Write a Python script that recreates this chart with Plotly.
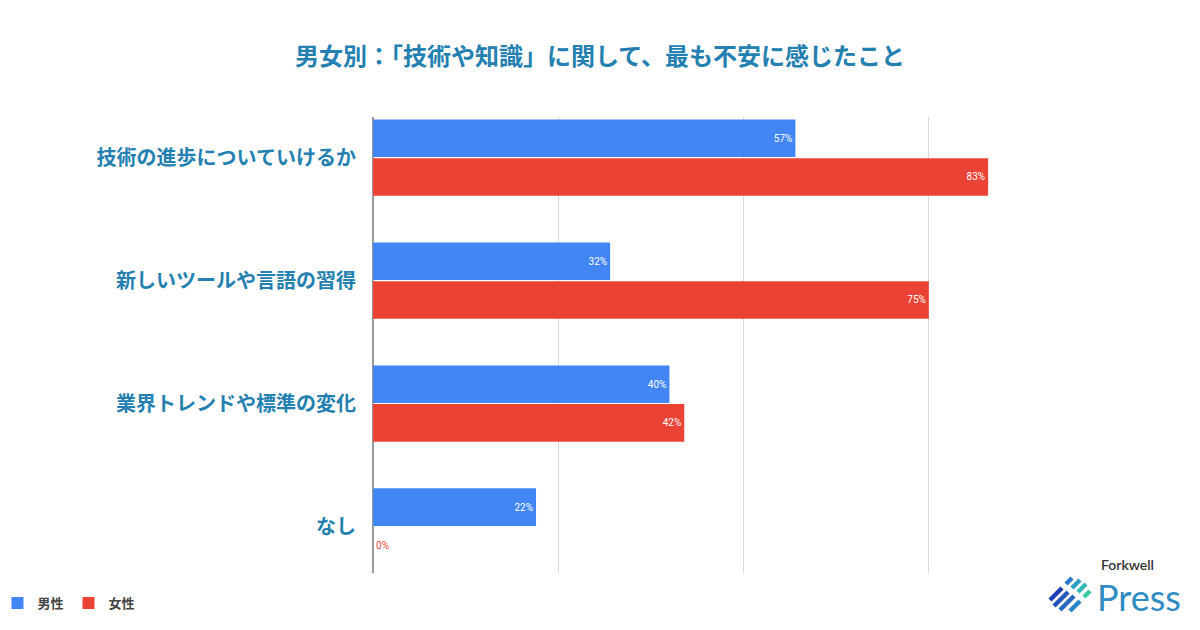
import plotly.graph_objects as go

# data
categories = ["技術の進歩についていけるか", "新しいツールや言語の習得", "業界トレンドや標準の変化", "なし"]
male = [57, 32, 40, 22]
female = [83, 75, 42, 0]
series_names = ["男性", "女性"]

BLUE = "#4285f4"
RED = "#ea4335"
TITLE_COLOR = "#2380b0"
FONT = "Noto Sans CJK JP"


def bar_trace(name, values, color):
    return go.Bar(
        name=name,
        y=categories,
        x=values,
        orientation="h",
        marker=dict(color=color, line=dict(width=0)),
        text=[f"{v}%" for v in values],
        textposition=["inside" if v > 0 else "outside" for v in values],
        insidetextanchor="end",
        textfont=dict(size=10, family="Roboto",
                      color=["white" if v > 0 else color for v in values]),
        cliponaxis=False,
        hoverinfo="skip",
    )


fig = go.Figure()
fig.add_trace(bar_trace(series_names[0], male, BLUE))
fig.add_trace(bar_trace(series_names[1], female, RED))

fig.update_layout(
    width=1200, height=630,
    margin=dict(l=373, r=160, t=117, b=57, autoexpand=False),
    paper_bgcolor="white", plot_bgcolor="white",
    barmode="group", bargap=0.37, bargroupgap=0.03,
    font=dict(family=FONT),
    title=dict(
        text="男女別：「技術や知識」に関して、最も不安に感じたこと",
        x=0.5, xref="container", xanchor="center",
        y=1 - 57 / 630, yref="container", yanchor="middle",
        font=dict(size=24, color=TITLE_COLOR, family=FONT, weight=700),
    ),
    showlegend=True,
    legend=dict(
        orientation="h", x=-0.563, xanchor="left", y=-0.066, yanchor="middle",
        font=dict(size=13, color="#444444", family=FONT, weight=700),
        itemwidth=30, traceorder="normal", bgcolor="rgba(0,0,0,0)",
    ),
)

fig.update_xaxes(
    range=[0, 90], tickvals=[25, 50, 75], showticklabels=False,
    showgrid=True, gridcolor="#d9d9d9", gridwidth=1,
    zeroline=True, zerolinecolor="#999999", zerolinewidth=1.5,
    showline=False, fixedrange=True,
)
fig.update_yaxes(
    categoryorder="array", categoryarray=categories,
    range=[3.378, -0.33], showgrid=False, showline=False, zeroline=False,
    ticks="", ticklabelstandoff=16,
    tickfont=dict(size=20, color=TITLE_COLOR, family=FONT, weight=700),
    fixedrange=True,
)

# logo: Forkwell Press
pw = 1200 - 373 - 160
ph = 630 - 117 - 57


def px2x(p):
    return (p - 373) / pw


def py2y(p):
    return (630 - 57 - p) / ph


fig.add_annotation(text="Forkwell", xref="paper", yref="paper",
                   x=px2x(1099), y=py2y(564), xanchor="left", yanchor="middle",
                   showarrow=False, font=dict(size=14, color="#333333", family="Lato", weight=600))
fig.add_annotation(text="Press", xref="paper", yref="paper",
                   x=px2x(1095), y=py2y(597), xanchor="left", yanchor="middle",
                   showarrow=False, font=dict(size=36, color="#2e8cc2", family="Lato"))

# icon strokes (diagonal dashes, blue to green)
strokes = [
    (1050, 600, 1062, 588, "#1d3fb5"), (1066, 584, 1072, 578, "#2a78c8"),
    (1054, 606, 1068, 592, "#2356bd"), (1072, 588, 1080, 580, "#2f9dc6"),
    (1060, 610, 1074, 596, "#2768c2"), (1078, 592, 1086, 584, "#34b8b4"),
    (1070, 611, 1080, 601, "#2b84c5"), (1084, 597, 1090, 591, "#3ccaa0"),
]
for x0, y0, x1, y1, c in strokes:
    fig.add_shape(type="line", xref="paper", yref="paper",
                  x0=px2x(x0), y0=py2y(y0), x1=px2x(x1), y1=py2y(y1),
                  line=dict(color=c, width=4.5), layer="above")

fig.write_html("out.html", config={"displayModeBar": False},
               post_script="document.body.style.margin='0';")
